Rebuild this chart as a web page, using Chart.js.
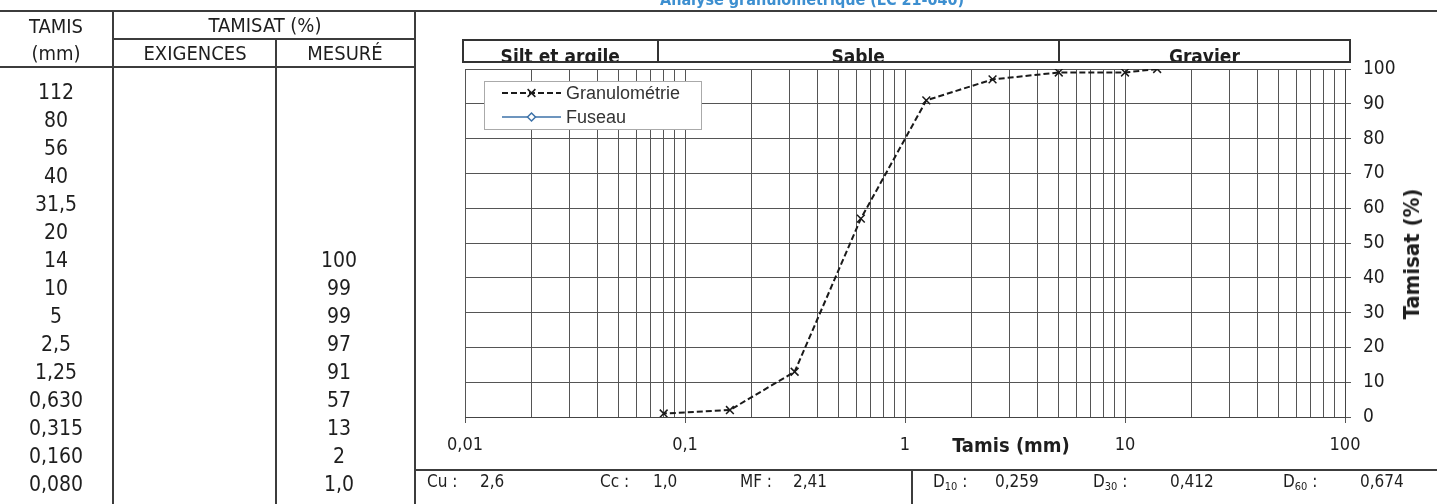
<!DOCTYPE html>
<html lang="fr">
<head>
<meta charset="utf-8">
<title>Analyse granulométrique</title>
<script src="https://cdn.jsdelivr.net/npm/chart.js@4.4.1/dist/chart.umd.min.js"></script>
<style>
  html, body { margin: 0; padding: 0; background: #fff; }
  #page {
    position: relative; width: 1437px; height: 504px; overflow: hidden;
    font-family: "DejaVu Sans Condensed", "DejaVu Sans", sans-serif; color: #1e1e1e;
  }
  #chart { position: absolute; left: 0; top: 0; }
  .hl, .vl { position: absolute; background: #3c3c3c; }
  .txt { position: absolute; white-space: nowrap; line-height: 1; }
  .c { transform: translate(-50%, -50%); }
  .l { transform: translate(0, -50%); }
  .head { font-size: 20px; }
  .num { font-size: 21px; }
  .stat { font-size: 17px; }
  .stat sub { font-size: 11px; vertical-align: -3px; line-height: 0; }
  #title { left: 660px; top: -8px; font-size: 16px; font-weight: bold; color: #3d8fd0; }
  #xTitle { left: 1011px; top: 445px; font-size: 20px; font-weight: bold; }
  #yTitle { left: 1412px; top: 254px; font-size: 22px; font-weight: bold;
            transform: translate(-50%, -50%) rotate(-90deg); }
</style>
</head>
<body>
<div id="page">
  <canvas id="chart" width="1437" height="504"></canvas>
</div>
<script>
// Sieve table (left panel)
const sieveLabels = ['112', '80', '56', '40', '31,5', '20', '14', '10', '5', '2,5', '1,25', '0,630', '0,315', '0,160', '0,080'];
const sieveSizes = [112, 80, 56, 40, 31.5, 20, 14, 10, 5, 2.5, 1.25, 0.63, 0.315, 0.16, 0.08];
const passing = [null, null, null, null, null, null, 100, 99, 99, 97, 91, 57, 13, 2, 1.0];
const passingLabels = ['', '', '', '', '', '', '100', '99', '99', '97', '91', '57', '13', '2', '1,0'];
const fuseau = []; // no envelope given

// Axis ticks
const xDecades = [0.01, 0.1, 1, 10, 100];
const xTickLabels = ['0,01', '0,1', '1', '10', '100'];

// Soil classes across the top of the plot
const bandNames = ['Silt et argile', 'Sable', 'Gravier'];
const bandLimits = [0.075, 5];

// Results row
const statNames = ['Cu', 'Cc', 'MF'];
const statValues = ['2,6', '1,0', '2,41'];
const dNames = ['10', '30', '60'];
const dValues = ['0,259', '0,412', '0,674'];

const page = document.getElementById('page');

function addBox(cls, x, y, w, h) {
    const d = document.createElement('div');
    d.className = cls;
    d.style.left = x + 'px';
    d.style.top = y + 'px';
    d.style.width = w + 'px';
    d.style.height = h + 'px';
    page.appendChild(d);
}

function addText(html, cls, x, y, id) {
    const d = document.createElement('div');
    d.className = 'txt ' + cls;
    if (id) d.id = id;
    else {
        d.style.left = x + 'px';
        d.style.top = y + 'px';
    }
    d.innerHTML = html;
    page.appendChild(d);
    return d;
}

// frame lines
addBox('hl', 0, 10, 1437, 2);
addBox('vl', 112, 11, 2, 493);
addBox('vl', 275, 39, 2, 465);
addBox('vl', 414, 11, 2, 493);
addBox('hl', 113, 38, 302, 2);
addBox('hl', 0, 66, 415, 2);
addBox('hl', 415, 469, 1022, 2);
addBox('vl', 911, 470, 2, 34);

// title and headers
addText('Analyse granulométrique (LC 21-040)', '', 0, 0, 'title');
addText('TAMIS', 'c head', 56, 26);
addText('(mm)', 'c head', 56, 53);
addText('TAMISAT (%)', 'c head', 265, 25);
addText('EXIGENCES', 'c head', 195, 53);
addText('MESURÉ', 'c head', 345, 53);

// table rows
sieveLabels.forEach((lab, i) => {
    const y = 91.5 + i * 28;
    addText(lab, 'c num', 56, y);
    if (passingLabels[i]) addText(passingLabels[i], 'c num', 339, y);
});

// results row
const statX = [[427, 480], [600, 653], [740, 793]];
statNames.forEach((n, i) => {
    addText(n + ' :', 'l stat', statX[i][0], 481);
    addText(statValues[i], 'l stat', statX[i][1], 481);
});
const dX = [[933, 995], [1093, 1170], [1283, 1360]];
dNames.forEach((n, i) => {
    addText('D<sub>' + n + '</sub> :', 'l stat', dX[i][0], 481);
    addText(dValues[i], 'l stat', dX[i][1], 481);
});

addText('Tamis (mm)', 'c', 0, 0, 'xTitle');
addText('Tamisat (%)', '', 0, 0, 'yTitle');

// gridline values: 1..9 in every decade
const xGrid = [];
xDecades.forEach((d, i) => {
    xGrid.push(d);
    if (i < xDecades.length - 1) {
        for (let m = 2; m <= 9; m++) xGrid.push(m * d);
    }
});

const gradPoints = [];
sieveSizes.forEach((s, i) => {
    if (passing[i] !== null) gradPoints.push({ x: s, y: passing[i] });
});

// class bands drawn above the plot
const bandsPlugin = {
    id: 'bands',
    afterDraw(chart) {
        const { ctx, chartArea } = chart;
        const xs = chart.scales.x;
        const top = 40, bottom = 62;
        const edges = [chartArea.left - 2, ...bandLimits.map(v => xs.getPixelForValue(v)), chartArea.right + 5];
        ctx.save();
        ctx.beginPath();
        ctx.rect(edges[0], top, edges[edges.length - 1] - edges[0], bottom - top);
        ctx.clip();
        ctx.fillStyle = '#1e1e1e';
        ctx.font = 'bold 19px "DejaVu Sans Condensed", "DejaVu Sans", sans-serif';
        ctx.textAlign = 'center';
        ctx.textBaseline = 'alphabetic';
        bandNames.forEach((name, i) => {
            ctx.fillText(name, (edges[i] + edges[i + 1]) / 2, bottom + 1);
        });
        ctx.restore();
        ctx.save();
        ctx.strokeStyle = '#333';
        ctx.lineWidth = 2;
        ctx.strokeRect(edges[0], top, edges[edges.length - 1] - edges[0], bottom - top);
        ctx.beginPath();
        for (let i = 1; i < edges.length - 1; i++) {
            ctx.moveTo(Math.round(edges[i]), top);
            ctx.lineTo(Math.round(edges[i]), bottom);
        }
        ctx.stroke();
        ctx.restore();
    }
};

// legend box inside the plot, line sample with marker
const insideLegend = {
    id: 'insideLegend',
    afterDraw(chart) {
        const { ctx, chartArea } = chart;
        const bx = chartArea.left + 19, by = chartArea.top + 12;
        ctx.save();
        ctx.fillStyle = '#fff';
        ctx.fillRect(bx, by, 217, 48);
        ctx.strokeStyle = '#aaa';
        ctx.lineWidth = 1;
        ctx.strokeRect(bx + 0.5, by + 0.5, 217, 48);
        chart.data.datasets.forEach((ds, i) => {
            const y = by + 12 + i * 24;
            const x0 = bx + 18, x1 = bx + 77, xm = (x0 + x1) / 2;
            ctx.strokeStyle = ds.borderColor;
            ctx.lineWidth = ds.borderWidth;
            ctx.setLineDash(ds.borderDash || []);
            ctx.beginPath();
            ctx.moveTo(x0, y);
            ctx.lineTo(x1, y);
            ctx.stroke();
            ctx.setLineDash([]);
            ctx.fillStyle = ds.pointBackgroundColor;
            ctx.strokeStyle = ds.pointBorderColor;
            ctx.lineWidth = ds.pointBorderWidth;
            Chart.helpers.drawPoint(ctx, {
                pointStyle: ds.pointStyle, radius: ds.pointRadius,
                borderWidth: ds.pointBorderWidth, rotation: 0
            }, xm, y);
            ctx.fillStyle = '#333';
            ctx.font = '18px "Liberation Sans", Arial, sans-serif';
            ctx.textAlign = 'left';
            ctx.textBaseline = 'middle';
            ctx.fillText(ds.label, x1 + 5, y + 1);
        });
        ctx.restore();
    }
};

new Chart(document.getElementById('chart'), {
    type: 'line',
    data: {
        datasets: [{
            label: 'Granulométrie',
            data: gradPoints,
            borderColor: '#1a1a1a',
            borderWidth: 2,
            borderDash: [6, 3],
            pointStyle: 'crossRot',
            pointRadius: 5.5,
            pointBorderColor: '#1a1a1a',
            pointBackgroundColor: '#1a1a1a',
            pointBorderWidth: 1.5,
            tension: 0
        }, {
            label: 'Fuseau',
            data: fuseau,
            borderColor: '#3d72a8',
            borderWidth: 1.5,
            pointStyle: 'rectRot',
            pointRadius: 4,
            pointBorderColor: '#3d72a8',
            pointBackgroundColor: '#fff',
            pointBorderWidth: 1.5
        }]
    },
    options: {
        responsive: false,
        animation: false,
        layout: { padding: { left: 465, top: 69, right: 32, bottom: 37 } },
        plugins: {
            legend: { display: false },
            tooltip: { enabled: false }
        },
        scales: {
            x: {
                type: 'logarithmic',
                min: 0.01,
                max: 100,
                afterBuildTicks(scale) {
                    scale.ticks = xGrid.map(v => ({ value: v }));
                },
                afterFit(scale) { scale.height = 50; },
                border: { display: true, color: '#444', width: 1 },
                grid: {
                    color: '#555',
                    lineWidth: 1,
                    tickLength: 6,
                    tickColor: ctx => xDecades.includes(ctx.tick && ctx.tick.value) ? '#555' : 'rgba(0,0,0,0)'
                },
                ticks: {
                    autoSkip: false,
                    maxRotation: 0,
                    padding: 12,
                    color: '#1e1e1e',
                    font: { family: '"DejaVu Sans Condensed", "DejaVu Sans", sans-serif', size: 18 },
                    callback(value) {
                        const k = xDecades.indexOf(value);
                        return k >= 0 ? xTickLabels[k] : '';
                    }
                }
            },
            y: {
                position: 'right',
                min: 0,
                max: 100,
                afterFit(scale) { scale.width = 60; },
                border: { display: true, color: '#444', width: 1 },
                grid: { color: '#555', lineWidth: 1, tickLength: 6, tickColor: '#555' },
                ticks: {
                    stepSize: 10,
                    padding: 12,
                    color: '#1e1e1e',
                    font: { family: '"DejaVu Sans Condensed", "DejaVu Sans", sans-serif', size: 19 }
                }
            }
        }
    },
    plugins: [bandsPlugin, insideLegend]
});
</script>
</body>
</html>
